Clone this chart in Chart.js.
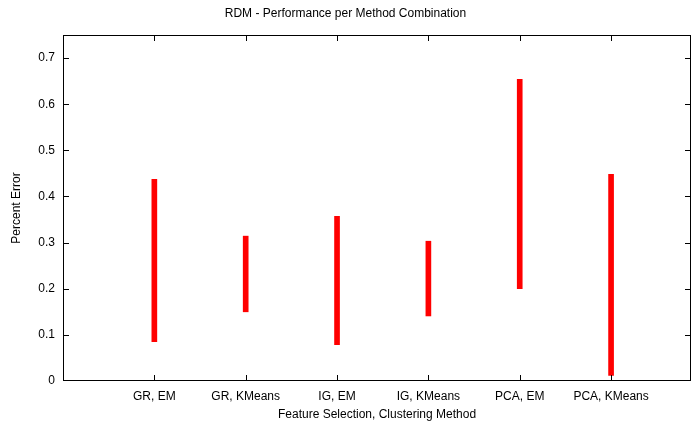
<!DOCTYPE html>
<html>
<head>
<meta charset="utf-8">
<script src="https://cdn.jsdelivr.net/npm/chart.js@4"></script>
<style>
  html, body { margin: 0; padding: 0; background: #fff; }
  #wrap { width: 692px; height: 426px; }
</style>
</head>
<body>
<div id="wrap"><canvas id="chart"></canvas></div>
<script>
const categories = ['GR, EM', 'GR, KMeans', 'IG, EM', 'IG, KMeans', 'PCA, EM', 'PCA, KMeans'];
const lowValues = [0.085, 0.150, 0.079, 0.141, 0.200, 0.012];
const highValues = [0.437, 0.314, 0.357, 0.303, 0.654, 0.448];
const yTicks = [0, 0.1, 0.2, 0.3, 0.4, 0.5, 0.6, 0.7];
const xTicks = [1, 2, 3, 4, 5, 6];

const points = categories.map(function (c, i) {
  return { x: xTicks[i], y: [lowValues[i], highValues[i]] };
});

Chart.defaults.font.family = '"Liberation Sans", Arial, sans-serif';
Chart.defaults.font.size = 12;
Chart.defaults.color = '#000';

// gnuplot style: box border with inward ticks on all sides
const frame = {
  id: 'frame',
  afterDraw(chart) {
    const ctx = chart.ctx;
    const a = chart.chartArea;
    const xs = chart.scales.x;
    const ys = chart.scales.y;
    ctx.save();
    ctx.strokeStyle = '#000';
    ctx.lineWidth = 1;
    ctx.strokeRect(a.left + 0.5, a.top + 0.5, a.right - a.left - 1, a.bottom - a.top - 1);
    ctx.beginPath();
    yTicks.forEach(function (v) {
      if (v === 0) return;
      const y = Math.round(ys.getPixelForValue(v)) + 0.5;
      ctx.moveTo(a.left, y); ctx.lineTo(a.left + 6, y);
      ctx.moveTo(a.right, y); ctx.lineTo(a.right - 6, y);
    });
    xTicks.forEach(function (v) {
      const x = Math.round(xs.getPixelForValue(v)) + 0.5;
      ctx.moveTo(x, a.bottom); ctx.lineTo(x, a.bottom - 6);
      ctx.moveTo(x, a.top); ctx.lineTo(x, a.top + 6);
    });
    ctx.stroke();
    ctx.restore();
  }
};

new Chart(document.getElementById('chart'), {
  type: 'bar',
  data: {
    datasets: [{
      data: points,
      backgroundColor: '#ff0000',
      borderWidth: 0,
      barThickness: 5
    }]
  },
  options: {
    responsive: true,
    maintainAspectRatio: false,
    animation: false,
    layout: { padding: { right: 1, left: 0, top: 0, bottom: 0 } },
    plugins: {
      legend: { display: false },
      tooltip: { enabled: false },
      title: {
        display: true,
        text: 'RDM - Performance per Method Combination',
        font: { size: 12, weight: 'normal' },
        padding: { top: 6, bottom: 14.6 }
      }
    },
    scales: {
      x: {
        type: 'linear',
        offset: false,
        min: 0,
        max: 6.875,
        grid: { display: false, drawTicks: false, offset: false },
        border: { display: false },
        afterBuildTicks(scale) {
          scale.ticks = xTicks.map(function (v) { return { value: v }; });
        },
        afterFit(scale) { scale.height = 45; },
        ticks: {
          padding: 8,
          maxRotation: 0,
          autoSkip: false,
          callback: function (v) { return categories[v - 1]; }
        },
        title: {
          display: true,
          text: 'Feature Selection, Clustering Method',
          padding: { top: 4, bottom: 4 }
        }
      },
      y: {
        min: 0,
        max: 0.75,
        grid: { display: false, drawTicks: false },
        border: { display: false },
        afterBuildTicks(scale) {
          scale.ticks = yTicks.map(function (v) { return { value: v }; });
        },
        afterFit(scale) { scale.width = 63; },
        ticks: {
          padding: 8,
          callback: function (v) { return v === 0 ? '0' : v.toFixed(1); }
        },
        title: {
          display: true,
          text: 'Percent Error',
          padding: { top: 9, bottom: 9 }
        }
      }
    }
  },
  plugins: [frame]
});
</script>
</body>
</html>
